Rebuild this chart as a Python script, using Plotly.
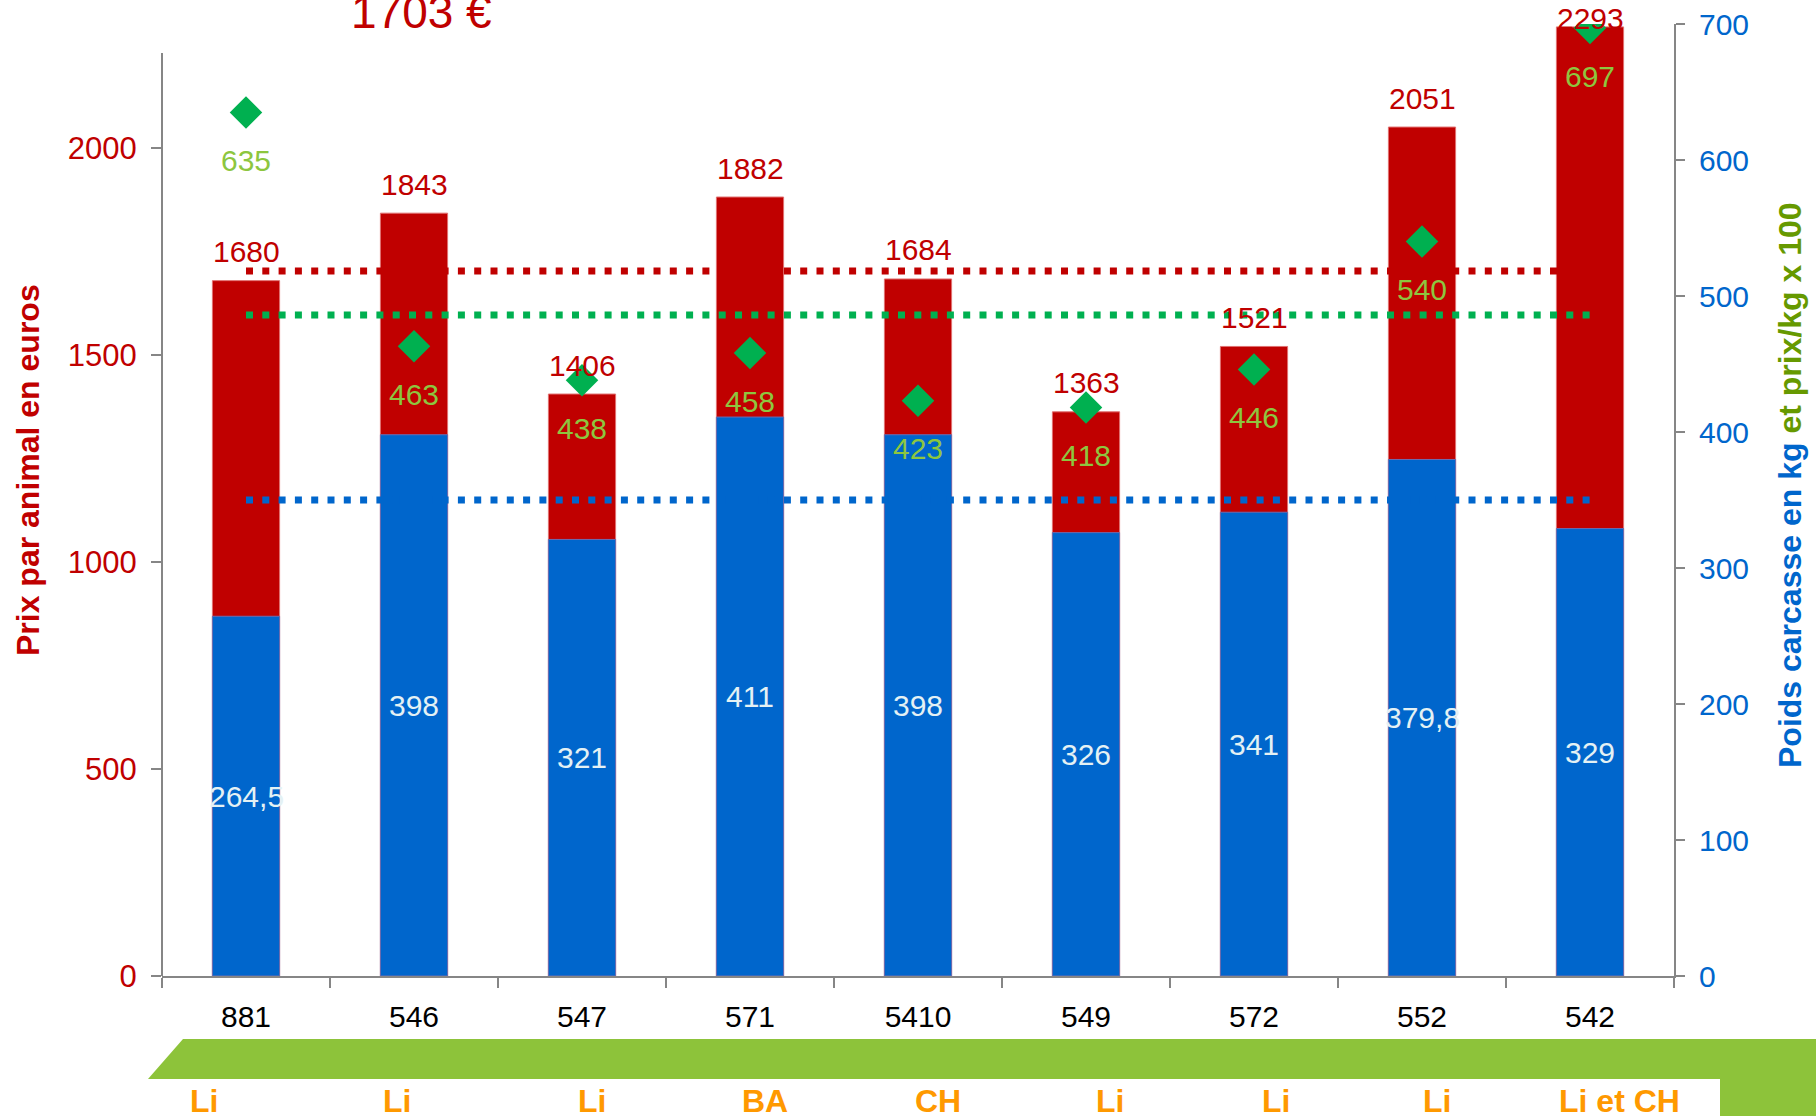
import plotly.graph_objects as go

# ---- data ----
categories = ["881", "546", "547", "571", "5410", "549", "572", "552", "542"]
breeds = ["Li", "Li", "Li", "BA", "CH", "Li", "Li", "Li", "Li et CH"]
prix_animal = [1680, 1843, 1406, 1882, 1684, 1363, 1521, 2051, 2293]
poids_carcasse = [264.5, 398, 321, 411, 398, 326, 341, 379.8, 329]
prix_kg_x100 = [635, 463, 438, 458, 423, 418, 446, 540, 697]
moyenne_prix = 1703
moyenne_prix_kg = 486
moyenne_poids = 350
left_ticks = [0, 500, 1000, 1500, 2000]
right_ticks = [0, 100, 200, 300, 400, 500, 600, 700]

# ---- style ----
RED = "#C00000"
BLUE = "#0066CC"
DIAMOND = "#00B050"
LGREEN = "#8DC63F"
TGREEN = "#669900"
ORANGE = "#FF9900"
GRAY = "#868686"
FONT = "Liberation Sans, Arial, sans-serif"

W, H = 1816, 1116
ML, MR, MT, MB = 162, 142, 24, 140
PW, PH = W - ML - MR, H - MT - MB
YMAX_L, YMAX_R = 2300, 700


def px_x(px):
    return (px - ML) / PW


def px_y(py):
    return (H - MB - py) / PH


def fmt(v):
    return (f"{v:g}").replace(".", ",")


fig = go.Figure()

fig.add_trace(go.Bar(
    x=categories, y=prix_animal, yaxis="y", width=0.4,
    marker=dict(color=RED, line=dict(color="#E07070", width=1)),
    name="Prix par animal"))

fig.add_trace(go.Scatter(
    x=[categories[0], categories[-1]], y=[moyenne_prix, moyenne_prix], yaxis="y",
    mode="lines", line=dict(color=RED, width=7, dash="7px,9.3px"), name="moy prix"))

fig.add_trace(go.Bar(
    x=categories, y=poids_carcasse, yaxis="y2", width=0.4,
    marker=dict(color=BLUE, line=dict(color="#6C6CB0", width=1)),
    name="Poids carcasse"))

fig.add_trace(go.Scatter(
    x=[categories[0], categories[-1]], y=[moyenne_prix_kg, moyenne_prix_kg], yaxis="y2",
    mode="lines", line=dict(color=DIAMOND, width=7, dash="7px,9.3px"), name="moy prix/kg"))

fig.add_trace(go.Scatter(
    x=[categories[0], categories[-1]], y=[moyenne_poids, moyenne_poids], yaxis="y2",
    mode="lines", line=dict(color=BLUE, width=7, dash="7px,9.3px"), name="moy poids"))

fig.add_trace(go.Scatter(
    x=categories, y=prix_kg_x100, yaxis="y2", mode="markers",
    marker=dict(symbol="diamond", size=25, color=DIAMOND, line=dict(width=0)),
    name="prix/kg x 100"))

annotations = []
ppu_l = PH / YMAX_L
for i, v in enumerate(prix_animal):
    shift = min(29, (YMAX_L - v) * ppu_l + MT - 18)
    annotations.append(dict(x=i, y=v, xref="x", yref="y", text=str(v), showarrow=False,
                            yshift=shift, yanchor="middle", xanchor="center",
                            font=dict(color=RED, size=30, family=FONT)))
for i, v in enumerate(poids_carcasse):
    annotations.append(dict(x=i, y=v / 2, xref="x", yref="y2", text=fmt(v), showarrow=False,
                            yanchor="middle", xanchor="center",
                            font=dict(color="#E4F1F4", size=30, family=FONT)))
for i, v in enumerate(prix_kg_x100):
    annotations.append(dict(x=i, y=v, xref="x", yref="y2", text=str(v), showarrow=False,
                            yshift=-48, yanchor="middle", xanchor="center",
                            font=dict(color=LGREEN, size=30, family=FONT)))

breed_xshift = [-42, -17, 10, 15, 20, 24, 22, 15, 29]
for i, (b, s) in enumerate(zip(breeds, breed_xshift)):
    annotations.append(dict(x=i, y=px_y(1101), xref="x", yref="paper", text=f"<b>{b}</b>",
                            showarrow=False, xshift=s, yanchor="middle", xanchor="center",
                            font=dict(color=ORANGE, size=32, family=FONT)))

annotations.append(dict(x=px_x(421), y=px_y(12), xref="paper", yref="paper",
                        text=f"{moyenne_prix} €", showarrow=False, yanchor="middle",
                        xanchor="center",
                        font=dict(color=RED, size=46, family=FONT)))

annotations.append(dict(x=px_x(28), y=px_y(470), xref="paper", yref="paper",
                        text="<b>Prix par animal en euros</b>", textangle=-90,
                        xanchor="center", yanchor="middle",
                        showarrow=False, font=dict(color=RED, size=32, family=FONT)))
annotations.append(dict(x=px_x(1790), y=px_y(485), xref="paper", yref="paper",
                        text=(f"<b><span style='color:{BLUE}'>Poids carcasse en kg</span> "
                              f"<span style='color:{TGREEN}'>et prix/kg x 100</span></b>"),
                        textangle=-90, showarrow=False, xanchor="center", yanchor="middle",
                        font=dict(size=32, family=FONT)))

shapes = [
    # green band under the axis
    dict(type="path", xref="paper", yref="paper", layer="below",
         path=(f"M {px_x(148)},{px_y(1079)} L {px_x(183)},{px_y(1039)} "
               f"L {px_x(1816)},{px_y(1039)} L {px_x(1816)},{px_y(1116)} "
               f"L {px_x(1720)},{px_y(1116)} L {px_x(1720)},{px_y(1079)} Z"),
         fillcolor="#8DC33A", line=dict(width=0)),
    # left axis line (stops below the top)
    dict(type="line", xref="paper", yref="y", x0=0, x1=0, y0=0, y1=2230,
         line=dict(color=GRAY, width=2)),
]

fig.update_layout(
    width=W, height=H,
    margin=dict(l=ML, r=MR, t=MT, b=MB, pad=0),
    paper_bgcolor="white", plot_bgcolor="white",
    barmode="overlay", showlegend=False,
    font=dict(family=FONT, size=30),
    xaxis=dict(type="category", showgrid=False, showline=True, linecolor=GRAY,
               linewidth=2, ticks="outside", tickson="boundaries", ticklen=10,
               tickwidth=1.5, tickcolor=GRAY, tickfont=dict(color="black", size=30),
               ticklabelstandoff=13, zeroline=False, automargin=False,
               range=[-0.5, len(categories) - 0.5]),
    yaxis=dict(range=[0, YMAX_L], tickvals=left_ticks, showgrid=False, zeroline=False,
               showline=False, ticks="outside", ticklen=10, tickwidth=1.5,
               tickcolor=GRAY, tickfont=dict(color=RED, size=31),
               ticklabelstandoff=8, automargin=False),
    yaxis2=dict(range=[0, YMAX_R], tickvals=right_ticks, overlaying="y", side="right",
                showgrid=False, zeroline=False, showline=True, linecolor=GRAY,
                linewidth=2, ticks="outside", ticklen=9, tickwidth=1.5,
                tickcolor=GRAY, tickfont=dict(color=BLUE, size=30),
                ticklabelstandoff=8, automargin=False),
    annotations=annotations, shapes=shapes,
)

fig.write_html("out.html", config={"displayModeBar": False},
               post_script="document.body.style.margin='0';")
